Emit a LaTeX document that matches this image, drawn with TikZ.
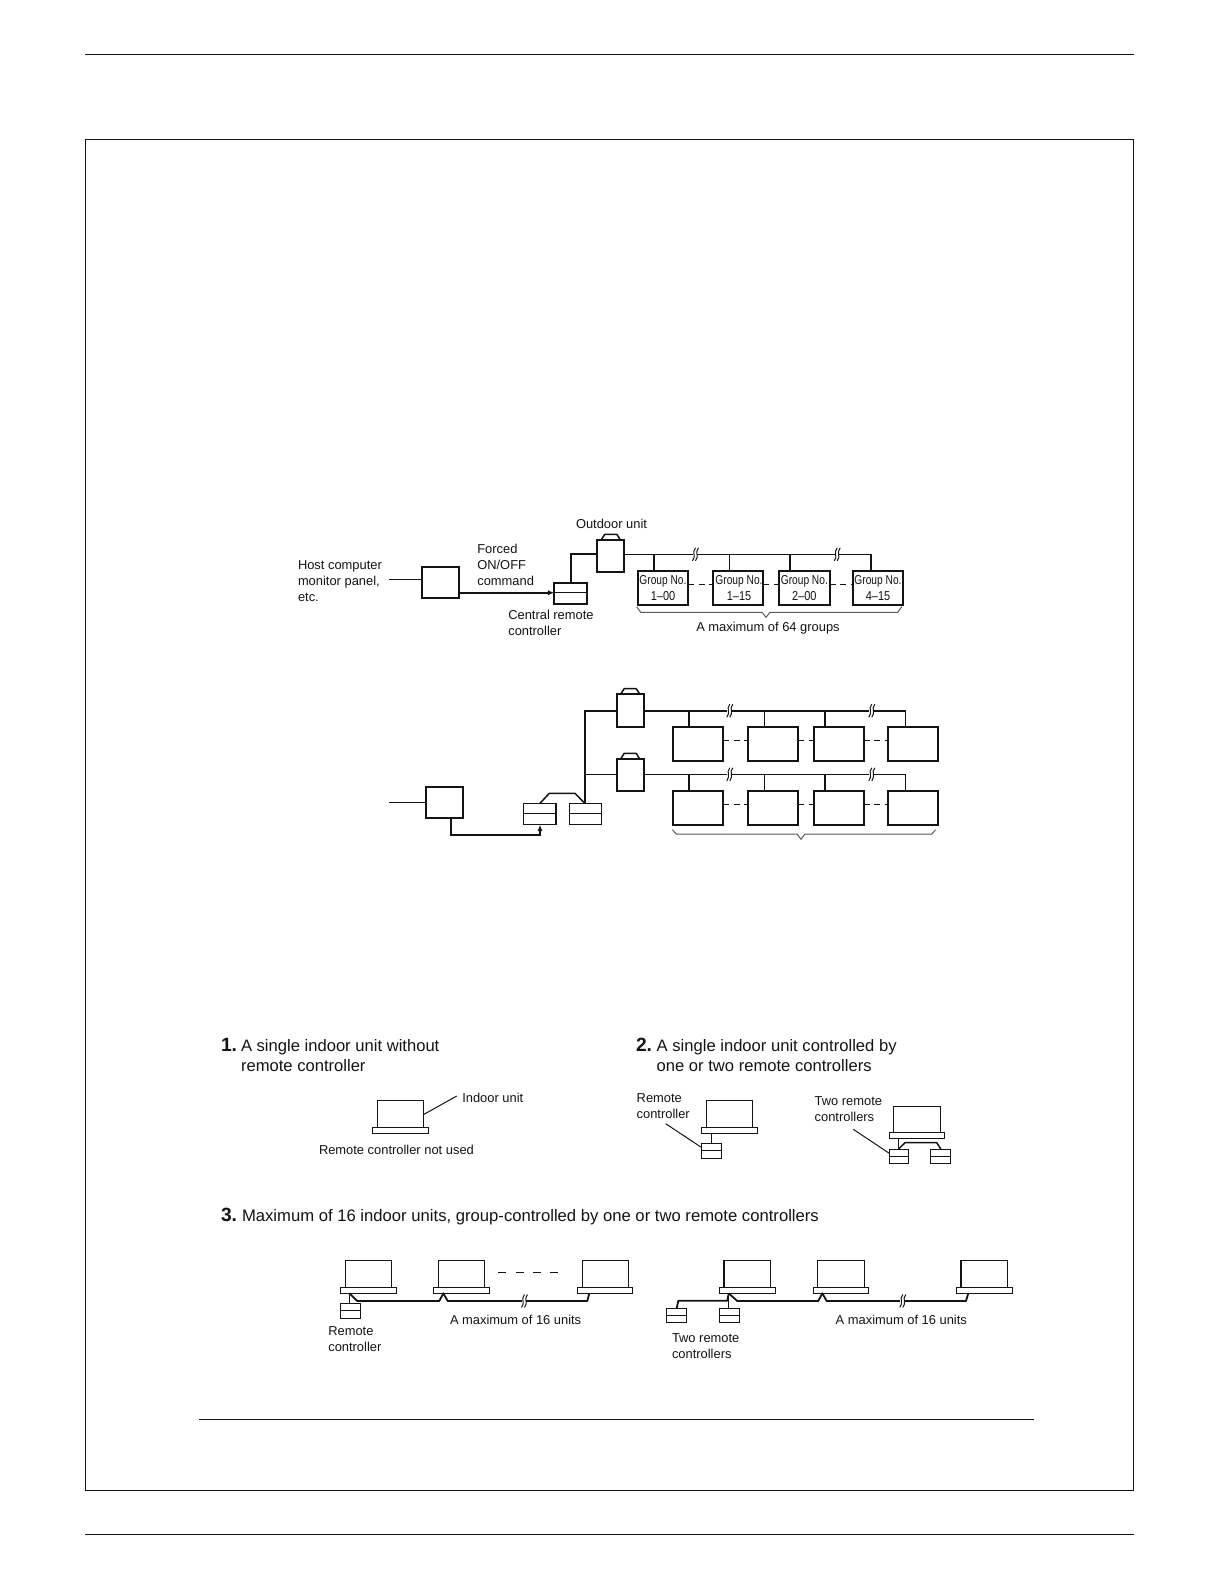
\documentclass[tikz,border=0pt]{standalone}
\usepackage{fontspec}
\usepackage{graphicx}
\setmainfont{Liberation Sans}
\usetikzlibrary{arrows.meta}
\definecolor{ink}{gray}{0.08}
\tikzset{
  thinw/.style={draw=ink,line width=0.5pt},
  thickw/.style={draw=ink,line width=0.9pt},
  medw/.style={draw=ink,line width=0.75pt},
  frame/.style={draw=ink,line width=0.45pt},
  bracew/.style={draw=ink!70,line width=0.5pt},
  dashw/.style={draw=ink,line width=0.5pt,dash pattern=on 3pt off 2.2pt},
  heavybox/.style={draw=ink,line width=0.9pt,inner sep=0pt,outer sep=0pt,fill=white},
  lightbox/.style={draw=ink,line width=0.6pt,inner sep=0pt,outer sep=0pt,fill=white},
  lbl/.style={inner sep=0pt,outer sep=0pt,anchor=west,align=left,text=ink,font=\fontsize{6.45}{7.9}\selectfont},
  head/.style={inner sep=0pt,outer sep=0pt,anchor=west,align=left,text=ink,font=\fontsize{8.3}{10.3}\selectfont},
  headlong/.style={inner sep=0pt,outer sep=0pt,anchor=west,align=left,text=ink,font=\fontsize{8.33}{10.3}\selectfont},
  num/.style={inner sep=0pt,outer sep=0pt,anchor=base west,text=ink,font=\fontsize{9.6}{10}\selectfont\bfseries},
  grp/.style={align=center,text=ink,font=\fontsize{6.45}{7.9}\selectfont},
}
% [style] name x1 y1 x2 y2 {text}
\newcommand{\bx}[7][heavybox]{%
  \pgfmathsetlengthmacro{\bxw}{(#5-#3)*0.5}%
  \pgfmathsetlengthmacro{\bxh}{(#6-#4)*0.5}%
  \node[#1,minimum width=\bxw,minimum height=\bxh] (#2) at ({(#3+#5)/2},{(#4+#6)/2}) {#7};}
% remote controller: name x1 y1 x2 y2 ydiv
\newcommand{\rc}[7][lightbox]{%
  \bx[#1]{#2}{#3}{#4}{#5}{#6}{}%
  \coordinate (#2d) at (#3,#7);
  \draw[thinw] (#2d) -- (#2d -| #2.east);}
% outdoor unit: name x1 y1 x2 y2 captop
\newcommand{\ou}[6]{%
  \bx{#1}{#2}{#3}{#4}{#5}{}%
  \draw[medw,line join=round] ({#2+3.8},#3) -- ({#2+7.5},#6) -- ({#4-7.5},#6) -- ({#4-3.8},#3);}
% indoor unit: name x1 x2 y1 y2 bx1 bx2 by2
\newcommand{\iu}[8]{%
  \bx[lightbox]{#1}{#2}{#4}{#3}{#5}{}%
  \bx[lightbox]{#1b}{#6}{#5}{#7}{#8}{}}
% wire break
\newcommand{\brk}[2]{%
  \fill[white] ({#1-2},{#2-2}) rectangle ({#1+2},{#2+2});
  \draw[thinw,line width=0.5pt] ({#1+0.5},{#2-6.5}) .. controls ({#1-3.5},{#2-2}) and ({#1+1.5},{#2+2}) .. ({#1-2.5},{#2+6.5});
  \draw[thinw,line width=0.5pt] ({#1+3.5},{#2-6.5}) .. controls ({#1-0.5},{#2-2}) and ({#1+4.5},{#2+2}) .. ({#1+0.5},{#2+6.5});}
\newcommand{\gt}[2]{\scalebox{0.79}[1]{#1}\\\scalebox{0.85}[1]{#2}}
\begin{document}
\begin{tikzpicture}[x=0.5pt,y=-0.5pt]
\useasboundingbox (0,0) rectangle (1219,1587);
\fill[white] (0,0) rectangle (1219,1587);
% page frame
\coordinate (ruleTL) at (85,54.7); \coordinate (ruleTR) at (1134,54.7);
\coordinate (ruleBL) at (85,1534.2); \coordinate (ruleBR) at (1134,1534.2);
\coordinate (ruleIL) at (198.8,1419.5); \coordinate (ruleIR) at (1034,1419.5);
\draw[frame] (ruleTL) -- (ruleTR);
\draw[frame] (ruleBL) -- (ruleBR);
\draw[frame] (ruleIL) -- (ruleIR);
\draw[frame] (85,139.7) rectangle (1133,1490.2);

% ---------- diagram A
\node[lbl] (hostA) at (298,581) {Host computer\\monitor panel,\\etc.};
\node[lbl] (forced) at (477.3,565) {Forced\\ON/OFF\\command};
\node[lbl] (crcA) at (508.3,622.7) {Central remote\\controller};
\node[lbl] (ouA) at (576,523.7) {Outdoor unit};
\bx{ifA}{421.7}{566.7}{459.3}{598.3}{}
\coordinate (hostEnd) at (389,579.3);
\draw[thinw] (hostEnd) -- (hostEnd -| ifA.west);
\rc[heavybox]{crc}{554.3}{582.7}{587}{604}{592.3}
\coordinate (arrA) at (459.3,592.7);
\draw[thickw,-{Latex[length=3.2pt,width=2.6pt]}] (arrA) -- (arrA -| crc.west);
\ou{oua}{597.3}{540}{624.3}{571.7}{534.3}
\coordinate (busA) at (597.3,554.3);
\coordinate (busB) at (624.3,554.3);
\coordinate (busE) at (871,554.3);
\draw[thickw] (crc.north) |- (busA);
\bx{g1}{637.7}{570.7}{688.3}{605}{}
\bx{g2}{712.7}{570.7}{763.3}{605}{}
\bx{g3}{779}{570.7}{829.7}{605}{}
\bx{g4}{852.7}{570.7}{903.3}{605}{}
\node[grp] (g1t) at (g1) {\gt{Group No.}{1–00}};
\node[grp] (g2t) at ([xshift=0.5pt]g2) {\gt{Group No.}{1–15}};
\node[grp] (g3t) at (g3) {\gt{Group No.}{2–00}};
\node[grp] (g4t) at (g4) {\gt{Group No.}{4–15}};
\draw[thinw] (busB) -- (busE);
\coordinate (j1) at (654,554.3); \coordinate (j2) at (729.7,554.3); \coordinate (j3) at (790,554.3);
\draw[medw] (j1) -- (g1.north -| j1);
\draw[medw] (j2) -- (g2.north -| j2);
\draw[medw] (j3) -- (g3.north -| j3);
\draw[medw] (busE) -- (g4.north -| busE);
\brk{695}{554.3}
\brk{836.7}{554.3}
\coordinate (dA) at (700,584);
\draw[dashw] (g1.east |- dA) -- (g2.west |- dA);
\draw[dashw] (g2.east |- dA) -- (g3.west |- dA);
\draw[dashw] (g3.east |- dA) -- (g4.west |- dA);
\draw[bracew] (636.7,606.7) -- (640.7,612.3) -- (762,612.3) -- (766,617.3) -- (770,612.3) -- (897.7,612.3) -- (901.7,606.7);
\node[lbl,anchor=center] (max64) at (768,628.5) {A maximum of 64 groups};

% ---------- diagram B
\bx{ifB}{425.7}{786.7}{463.3}{818}{}
\coordinate (hostEndB) at (389,802.3);
\draw[thinw] (hostEndB) -- (hostEndB -| ifB.west);
\rc{crc1}{523.7}{803.3}{556}{824.7}{813.3}
\rc{crc2}{569.3}{803.3}{601.7}{824.7}{813.3}
\coordinate (ifBout) at (451,818);
\coordinate (crc1in) at (540,824.7);
\coordinate (lowB) at (451,834.7);
\draw[thickw,-{Latex[length=3.2pt,width=2.6pt]}] (ifBout) -- (lowB) -| (crc1in);
\coordinate (lnkA) at (540,803.3); \coordinate (lnkB) at (549.3,793.3); \coordinate (lnkC) at (575,793.3); \coordinate (lnkD) at (584.7,803.3);
\draw[medw,line join=round] (lnkA) -- (lnkB) -- (lnkC) -- (lnkD);
\ou{ou1}{616.7}{694.3}{643.7}{726.7}{688.7}
\ou{ou2}{616.7}{759.3}{643.7}{791}{753.3}
\coordinate (b1L) at (616.7,710.7);
\coordinate (b2L) at (616.7,774.3);
\coordinate (b1R) at (643.7,710.7);
\coordinate (b2R) at (643.7,774.3);
\coordinate (b1E) at (905.7,710.7);
\coordinate (b2E) at (905.7,774.3);
\draw[thickw] (lnkD) |- (b1L);
\draw[thinw] (lnkD |- b2L) -- (b2L);
\draw[thickw] (b1R) -- (b1E);
\draw[thinw] (b2R) -- (b2E);
\bx{r1}{672.7}{727}{723.3}{761}{}
\bx{r2}{747.7}{727}{798.3}{761}{}
\bx{r3}{813.7}{727}{863.7}{761}{}
\bx{r4}{887.7}{727}{938.3}{761}{}
\bx{s1}{672.7}{791}{723.3}{825.3}{}
\bx{s2}{747.7}{791}{798.3}{825.3}{}
\bx{s3}{813.7}{791}{863.7}{825.3}{}
\bx{s4}{887.7}{791}{938.3}{825.3}{}
\coordinate (k1) at (689,710.7); \coordinate (k2) at (764.3,710.7); \coordinate (k3) at (825,710.7);
\coordinate (l1) at (689,774.3); \coordinate (l2) at (764.3,774.3); \coordinate (l3) at (825,774.3);
\draw[medw] (k1) -- (r1.north -| k1);
\draw[thinw] (k2) -- (r2.north -| k2);
\draw[medw] (k3) -- (r3.north -| k3);
\draw[thinw] (b1E) -- (r4.north -| b1E);
\draw[medw] (l1) -- (s1.north -| l1);
\draw[thinw] (l2) -- (s2.north -| l2);
\draw[medw] (l3) -- (s3.north -| l3);
\draw[thinw] (b2E) -- (s4.north -| b2E);
\brk{729.3}{710.7} \brk{871.3}{710.7}
\brk{729.3}{774.3} \brk{871.3}{774.3}
\coordinate (dB) at (700,740.3); \coordinate (dC) at (700,804.3);
\draw[dashw] (r1.east |- dB) -- (r2.west |- dB);
\draw[dashw] (r2.east |- dB) -- (r3.west |- dB);
\draw[dashw] (r3.east |- dB) -- (r4.west |- dB);
\draw[dashw] (s1.east |- dC) -- (s2.west |- dC);
\draw[dashw] (s2.east |- dC) -- (s3.west |- dC);
\draw[dashw] (s3.east |- dC) -- (s4.west |- dC);
\draw[bracew] (672.3,829.7) -- (676.3,834) -- (797,834) -- (801,839.3) -- (805,834) -- (931.7,834) -- (935.7,829.7);

% ---------- section 1
\node[num] (n1) at (221,1051) {1.};
\node[head] (h1) at (241,1055.5) {A single indoor unit without\\remote controller};
\iu{u1}{377.3}{423.3}{1100.3}{1127.3}{372.7}{428.7}{1133.3}
\node[lbl] (indoor) at (462.3,1097.7) {Indoor unit};
\coordinate (indoorEnd) at (456.7,1096);
\coordinate (u1lead) at (423.3,1114.7);
\draw[thinw] (u1lead) -- (indoorEnd);
\node[lbl] (notused) at (319,1150.3) {Remote controller not used};

% ---------- section 2
\node[num] (n2) at (636,1051) {2.};
\node[head] (h2) at (656.7,1055.5) {A single indoor unit controlled by\\one or two remote controllers};
\iu{u2}{706.3}{752.3}{1100.3}{1127.3}{701.3}{757.3}{1133.3}
\rc{rc2}{701.3}{1143.3}{721.3}{1158.3}{1150}
\draw[thinw] (rc2.north) -- (rc2.north |- u2b.south);
\node[lbl] (rcl2) at (636.7,1105.8) {Remote\\controller};
\coordinate (lead2) at (665.7,1123.7);
\coordinate (lead2e) at (701.3,1147.3);
\draw[thinw] (lead2) -- (lead2e);
\iu{u3}{893.3}{940.7}{1106.3}{1132.3}{889.3}{944.3}{1138.7}
\rc{rc3}{889.3}{1149.3}{908.7}{1163.3}{1156}
\rc{rc4}{930.7}{1149.3}{950.7}{1163.3}{1156}
\coordinate (w3) at (898.7,1138.7);
\coordinate (w3a) at (899,1148.6);
\coordinate (w3b) at (905,1142.7);
\coordinate (w3c) at (936.7,1142.7);
\coordinate (w3d) at (941,1149.3);
\draw[medw] (w3) -- (w3 |- rc3.north);
\draw[medw,line join=round] (w3a) -- (w3b) -- (w3c) -- (w3d);
\node[lbl] (rcl3) at (814.7,1109.1) {Two remote\\controllers};
\coordinate (lead3) at (853.3,1129.3);
\coordinate (lead3e) at (889.3,1153.3);
\draw[thinw] (lead3) -- (lead3e);

% ---------- section 3
\node[num] (n3) at (221,1221) {3.};
\node[headlong] (h3) at (242,1217) {Maximum of 16 indoor units, group-controlled by one or two remote controllers};
\iu{a1}{345.3}{391.7}{1260.3}{1287.3}{340.7}{396.3}{1293.3}
\iu{a2}{438.3}{484.7}{1260.3}{1287.3}{433.3}{489.7}{1293.3}
\iu{a3}{582.3}{628.3}{1260.3}{1287.3}{577.7}{632.7}{1293.3}
\coordinate (dashL) at (498.3,1272.3); \coordinate (dashR) at (562.3,1272.3);
\draw[thinw,dash pattern=on 4pt off 4.6pt] (dashL) -- (dashR);
\rc{ra}{340.7}{1303.3}{360.7}{1318.3}{1310.7}
\coordinate (wa0) at (349.3,1293.3);
\draw[medw] (wa0) -- (wa0 |- ra.north);
\draw[thickw,line join=round] (wa0) -- (357.3,1301) -- (439.3,1301) -- (443.3,1293.3) -- (447.7,1301) -- (587.3,1301) -- (589.3,1293.3);
\brk{524}{1301}
\node[lbl] (max16a) at (450,1320.3) {A maximum of 16 units};
\node[lbl] (rcla) at (328.3,1338.8) {Remote\\controller};

\iu{b1}{724}{770.7}{1260.3}{1287.3}{719.3}{775.7}{1293.3}
\iu{b2}{817.3}{864.3}{1260.3}{1287.3}{813.3}{868.7}{1293.3}
\iu{b3}{961}{1007.7}{1260.3}{1287.3}{956.3}{1012.7}{1293.3}
\rc{rb1}{666.7}{1308.3}{686.7}{1322.7}{1315.7}
\rc{rb2}{719.7}{1308.3}{739.7}{1322.7}{1315.7}
\coordinate (wb0) at (728.7,1293.3);
\coordinate (wb1) at (727.3,1300.7);
\draw[thickw,line join=round] (rb1.north) -- (678.3,1300.7) -- (wb1) -- (wb0);
\draw[medw] (wb0) -- (wb0 |- rb2.north);
\draw[thickw,line join=round] (wb0) -- (737.3,1301) -- (818.3,1301) -- (822.3,1293.3) -- (826.7,1301) -- (966,1301) -- (968.3,1293.3);
\brk{902.3}{1301}
\node[lbl] (max16b) at (835.7,1320.3) {A maximum of 16 units};
\node[lbl] (rclb) at (672,1346) {Two remote\\controllers};
\end{tikzpicture}
\end{document}
